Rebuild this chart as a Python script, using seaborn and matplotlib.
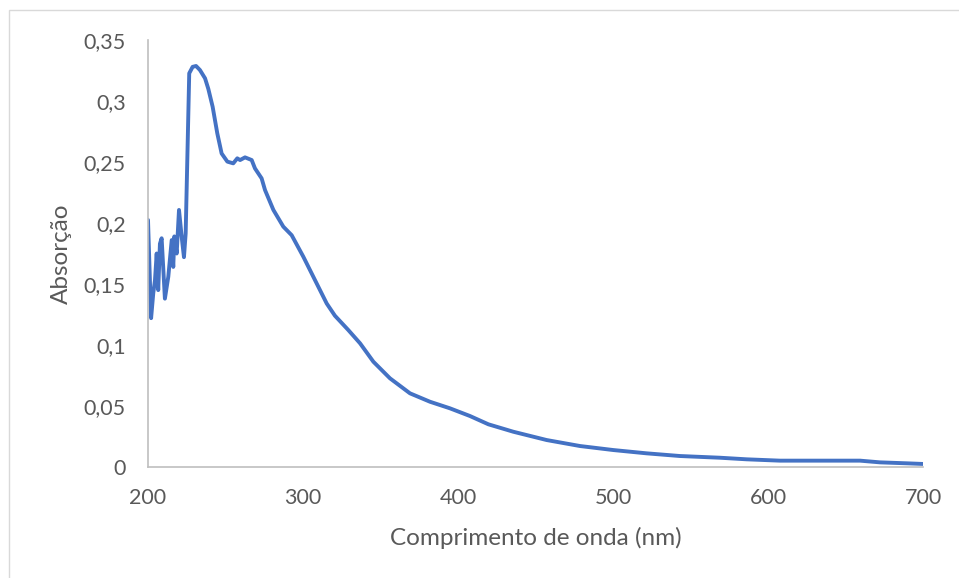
import matplotlib
matplotlib.use("Agg")
import matplotlib.pyplot as plt
import matplotlib.ticker as mticker
from matplotlib.patches import Rectangle
import seaborn as sns
import pandas as pd

# Data
wavelength_nm = [200.0, 202.0, 203.4, 204.5, 205.6, 206.6, 207.7, 208.8, 210.9, 213.1,
                 215.3, 216.3, 217.0, 218.5, 220.0, 221.7, 223.2, 224.3, 226.6, 228.8,
                 231.0, 233.5, 236.8, 238.9, 241.7, 244.7, 247.5, 251.2, 255.0, 257.6,
                 259.4, 262.6, 266.9, 269.0, 273.3, 275.5, 280.9, 287.3, 292.7, 300.2,
                 307.7, 315.3, 320.6, 329.2, 336.8, 345.4, 356.1, 369.0, 381.9, 394.8,
                 407.7, 419.6, 435.7, 457.2, 478.7, 500.2, 521.7, 543.2, 569.0, 586.2,
                 607.7, 659.4, 672.3, 690.0, 699.8]
absorbance = [0.2025, 0.122, 0.1425, 0.153, 0.175, 0.145, 0.183, 0.1875, 0.138, 0.156,
              0.186, 0.164, 0.189, 0.175, 0.2107, 0.189, 0.172, 0.1915, 0.3227, 0.328,
              0.3287, 0.3254, 0.3186, 0.310, 0.2953, 0.2735, 0.257, 0.2503, 0.2489, 0.253,
              0.2516, 0.2538, 0.2516, 0.2448, 0.2366, 0.227, 0.2107, 0.197, 0.190, 0.1724,
              0.1533, 0.134, 0.124, 0.1123, 0.1014, 0.0863, 0.0727, 0.0604, 0.0535, 0.0481,
              0.0418, 0.0350, 0.0289, 0.0221, 0.0172, 0.0139, 0.0112, 0.0090, 0.0076, 0.0063,
              0.0052, 0.0052, 0.0038, 0.0030, 0.0025]
x_ticks = [200, 300, 400, 500, 600, 700]
y_ticks = [0, 0.05, 0.1, 0.15, 0.2, 0.25, 0.3, 0.35]
x_label = "Comprimento de onda (nm)"
y_label = "Absorção"

df = pd.DataFrame({"wl": wavelength_nm, "abs": absorbance})

sns.set_theme(style="white")
plt.rcParams['font.family'] = ['Lato', 'DejaVu Sans']

W, H = 959, 578
fig = plt.figure(figsize=(W / 100, H / 100), dpi=100)
ax = fig.add_axes([148 / W, 1 - 467 / H, (923 - 148) / W, (467 - 40) / H])

sns.lineplot(data=df, x="wl", y="abs", ax=ax, color="#4472C4", linewidth=2.8,
             estimator=None, sort=False)

ax.set_xlim(200, 700)
ax.set_ylim(0, 0.35)
ax.set_xticks(x_ticks)
ax.set_yticks(y_ticks)
ax.yaxis.set_major_formatter(mticker.FuncFormatter(lambda v, p: ("%g" % round(v, 2)).replace(".", ",")))
ax.tick_params(axis="both", length=0, labelsize=15.5, labelcolor="#595959")
ax.tick_params(axis="y", pad=16)
ax.tick_params(axis="x", pad=15)

for s in ["top", "right"]:
    ax.spines[s].set_visible(False)
for s in ["left", "bottom"]:
    ax.spines[s].set_color("#BFBFBF")
    ax.spines[s].set_linewidth(1.2)

ax.set_xlabel(x_label, fontsize=17.5, color="#595959", labelpad=14)
ax.set_ylabel(y_label, fontsize=17.5, color="#595959", labelpad=8)

# light frame around the chart area
fig.patches.append(Rectangle((9 / W, -0.1), 1.2, 1 - 10 / H + 0.1, transform=fig.transFigure,
                             fill=False, edgecolor="#D9D9D9", linewidth=1.0))

fig.savefig("out.png", dpi=100)
